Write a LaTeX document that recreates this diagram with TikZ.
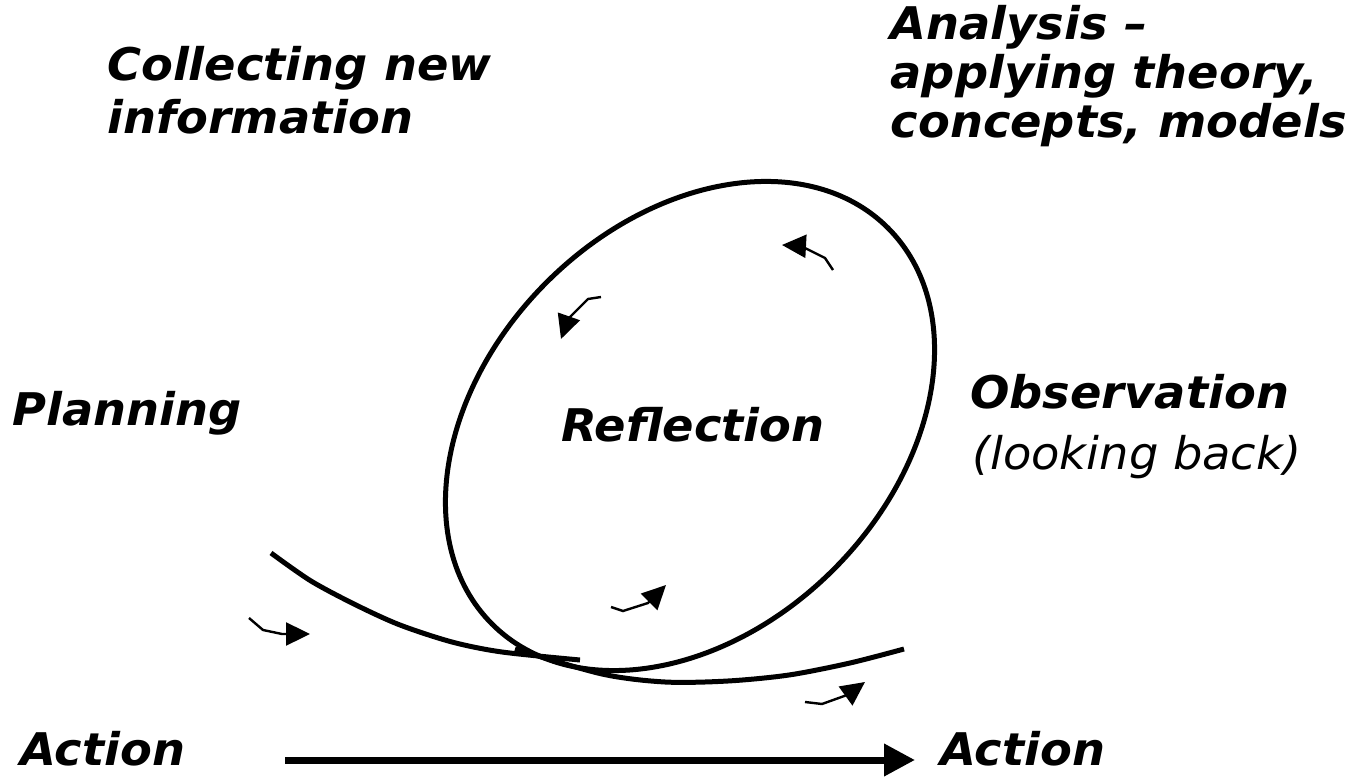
\documentclass[tikz,border=0pt]{standalone}
\usepackage{fontspec}
\setmainfont{DejaVu Sans}[FakeStretch=1.03,
  ItalicFont={DejaVu Sans Oblique},
  BoldFont={DejaVu Sans Bold},
  BoldItalicFont={DejaVu Sans Bold Oblique}]
\usetikzlibrary{arrows.meta}
\tikzset{
  stage/.style={inner sep=0pt, align=left, font=\fontsize{45}{53}\selectfont\bfseries\itshape},
  note/.style={inner sep=0pt, font=\fontsize{45}{53}\selectfont\itshape},
  loopline/.style={line width=5pt},
  turn/.style={line width=2.4pt, -{Triangle[length=24pt,width=23pt]}},
  flow/.style={line width=7pt, -{Triangle[length=31pt,width=31pt]}}
}

\begin{document}
\begin{tikzpicture}[x=1pt,y=1pt]
    \useasboundingbox (0,0) rectangle (1351,777);
    \node[stage, anchor=north west] (collect) at (107,731) {Collecting new\\information};
    \node[stage, anchor=north east, font=\fontsize{45}{49}\selectfont\bfseries\itshape] (analysis) at (1347,772) {Analysis --\\applying theory,\\concepts, models};
    \node[stage, anchor=north west] (planning) at (12,386) {Planning};
    \node[stage] (reflection) at (693,352) {Reflection};
    \node[stage, anchor=north west] (observation) at (970,403) {Observation};
    \node[note, anchor=north west] (lookback) at (972,342) {(looking back)};
    \node[stage, anchor=north west] (actionA) at (20,46) {Action};
    \node[stage, anchor=north west] (actionB) at (940,46) {Action};
    % reflection loop and the path of action
    \draw[loopline] (690,351) ellipse [x radius=280, y radius=203, rotate=45];
    \draw[loopline] plot[smooth] coordinates {(271,224) (311,196) (356,172) (400,152) (452,135) (502,125) (580,117)};
    \draw[loopline] plot[smooth] coordinates {(515,128) (602,103) (665,95) (728,96) (789,102) (850,114) (904,128)};
    % small direction arrows
    \draw[turn] (833,507) -- (825,519) -- (801,531) -- (782,532);
    \draw[turn] (601,480) -- (588,478) -- (568,458) -- (561,438);
    \draw[turn] (611,170) -- (623,166) -- (648,174) -- (666,192);
    \draw[turn] (249,159) -- (263,147) -- (282,143) -- (310,143);
    \draw[turn] (805,75) -- (822,73) -- (847,82) -- (865,95);
    % time line
    \coordinate (flowS) at (285,17);
    \coordinate (flowE) at (915,17);
    \draw[flow] (flowS) -- (flowE);
\end{tikzpicture}
\end{document}
